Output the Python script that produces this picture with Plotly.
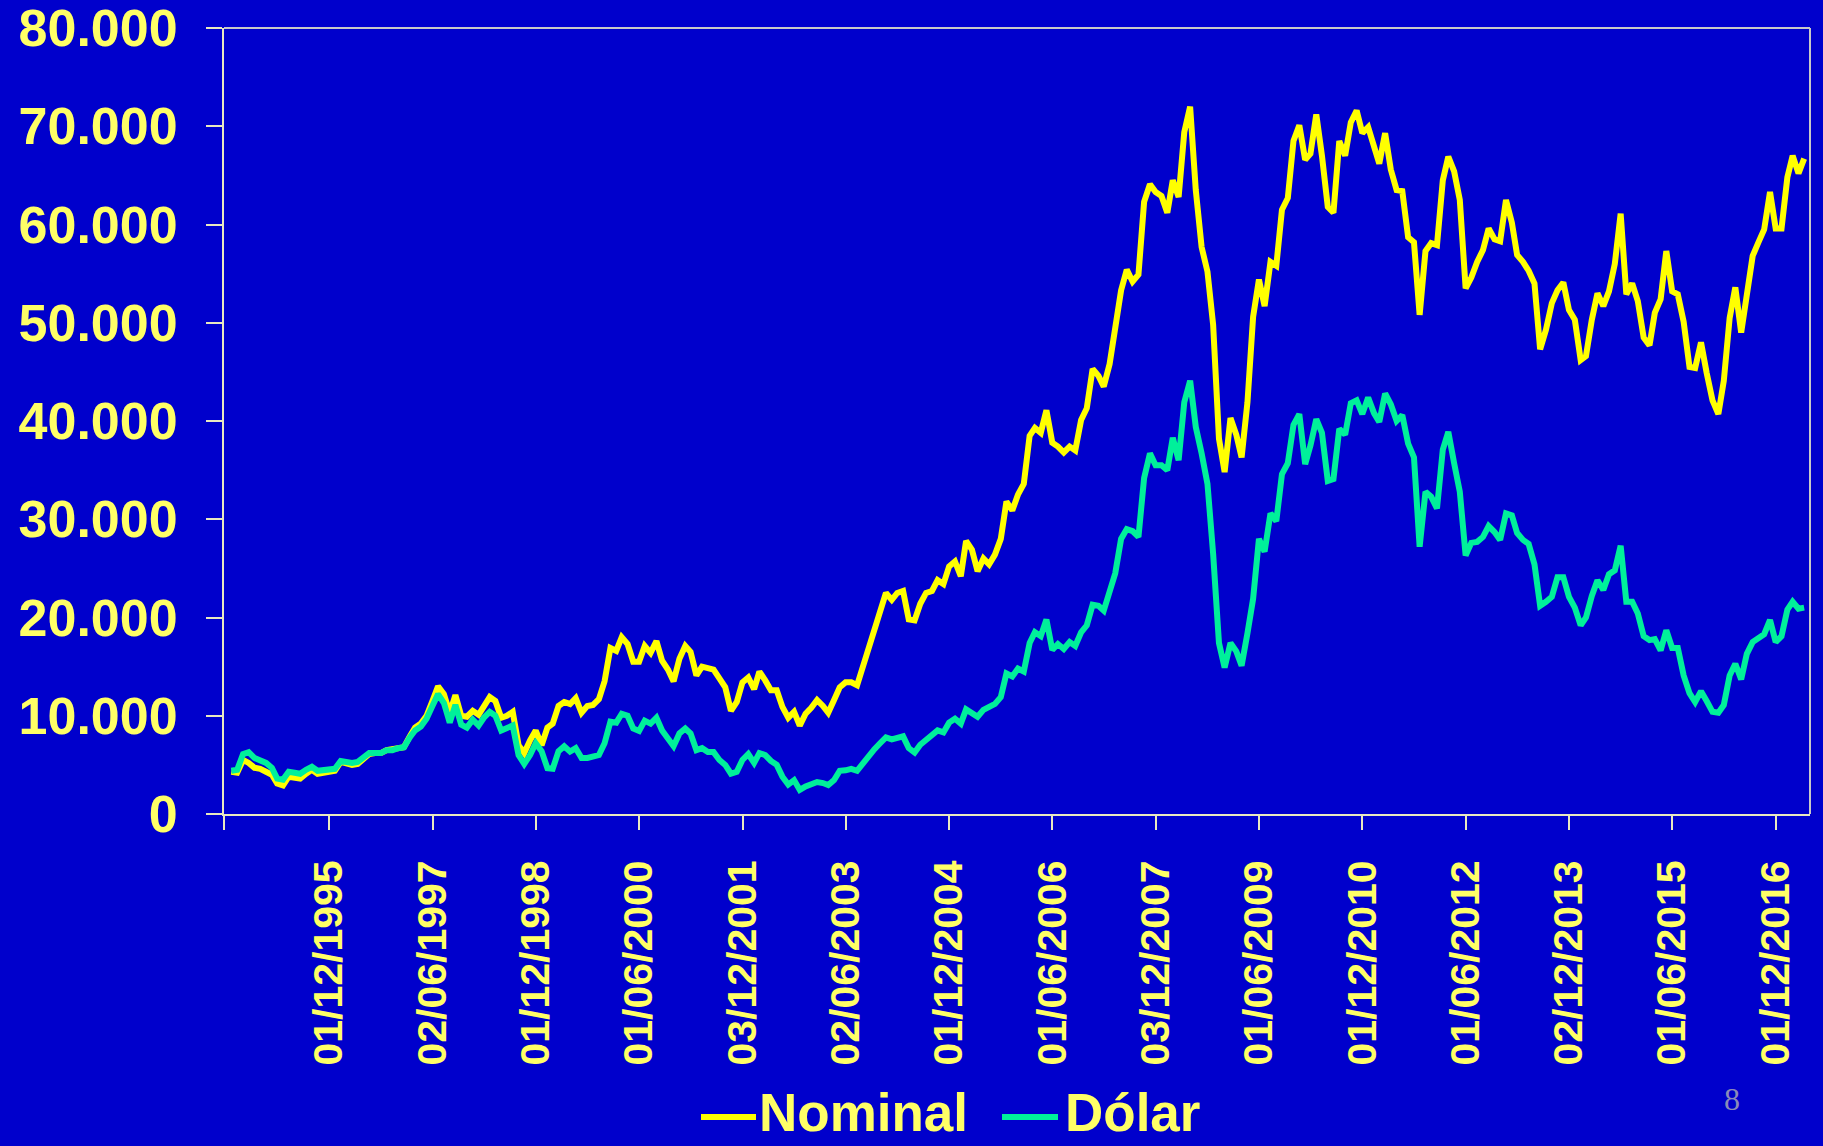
import pandas as pd
import plotly.graph_objects as go

# Monthly index levels, July 1994 through May 2017
first_month = "1994-07-01"

nominal = [
    4300, 4200, 5500, 5200, 4700, 4600, 4300, 4000, 3100, 2900, 3800, 3700,
    3600, 4100, 4500, 4100, 4200, 4300, 4400, 5300, 5100, 5000, 5100, 5600,
    6100, 6200, 6200, 6500, 6600, 6700, 6800, 7900, 8800, 9200, 10000, 11500,
    13000, 12200, 10300, 12100, 10000, 9900, 10500, 10100, 11000, 11900, 11500, 9800,
    10000, 10400, 7000, 6200, 7500, 8500, 7000, 8800, 9200, 11000, 11400, 11200,
    11800, 10300, 11000, 11100, 11700, 13500, 16900, 16600, 18000, 17300, 15500, 15500,
    17100, 16400, 17600, 15600, 14700, 13500, 15800, 17100, 16500, 14100, 15000, 14900,
    14700, 13800, 12900, 10500, 11400, 13400, 13900, 12700, 14500, 13600, 12600, 12600,
    10900, 9800, 10400, 9000, 10200, 10800, 11600, 11000, 10300, 11600, 12900, 13400,
    13400, 13100, 15000, 16500, 18500, 20500, 22500, 21800, 22500, 22700, 19800, 19700,
    21400, 22500, 22700, 23800, 23400, 25200, 25700, 24200, 27800, 26900, 24700, 26000,
    25400, 26400, 28000, 31800, 30900, 32500, 33600, 38500, 39300, 38800, 41100, 37800,
    37400, 36800, 37400, 37000, 40100, 41300, 45300, 44600, 43500, 45800, 49100, 53300,
    55400, 54200, 54900, 62300, 64100, 63300, 62900, 61200, 64500, 62800, 69400, 72000,
    63500, 57700, 55200, 49800, 38200, 34800, 40300, 38600, 36300, 41900, 50600, 54400,
    51700, 56200, 55800, 61500, 62700, 68500, 70100, 66600, 67200, 71200, 67000, 61800,
    61200, 68500, 67000, 70400, 71600, 69300, 69900, 67900, 66200, 69300, 65600, 63500,
    63400, 58700, 58200, 50800, 57300, 58100, 57900, 64500, 66900, 65400, 62500, 53500,
    54600, 56200, 57400, 59600, 58500, 58300, 62500, 60200, 56900, 56200, 55300, 54000,
    47300, 49300, 52000, 53300, 54100, 51300, 50300, 46200, 46600, 50300, 53000, 51700,
    53200, 56000, 61100, 52900, 54000, 52200, 48500, 47700, 51000, 52400, 57300, 53200,
    52900, 50100, 45500, 45400, 48000, 44900, 42100, 40700, 44100, 50500, 53600, 49000,
    52400, 56800, 58200, 59500, 63300, 59600, 59600, 64800, 67000, 65200, 66700,
]

dolar = [
    4400, 4500, 6100, 6300, 5700, 5500, 5200, 4700, 3600, 3500, 4300, 4200,
    4100, 4500, 4800, 4400, 4500, 4500, 4600, 5400, 5300, 5200, 5300, 5800,
    6200, 6200, 6200, 6500, 6500, 6700, 6800, 7800, 8500, 8900, 9700, 11000,
    12200, 11300, 9300, 11100, 9100, 8800, 9600, 9000, 9800, 10400, 10000, 8500,
    8700, 9000, 6000, 5100, 6000, 7200, 6400, 4650, 4600, 6400, 6900, 6350,
    6700, 5700, 5700, 5800, 6000, 7200, 9400, 9300, 10200, 10000, 8700, 8450,
    9500, 9200, 9800, 8500, 7800, 6900, 8200, 8700, 8200, 6500, 6700, 6300,
    6300, 5500, 5000, 4100, 4300, 5500, 6100, 5200, 6200, 6000, 5400, 5000,
    3800, 3000, 3450, 2450, 2800, 3000, 3250, 3150, 2950, 3450, 4400, 4450,
    4600, 4400, 5200, 5800, 6600, 7200, 7800, 7600, 7700, 7900, 6700, 6250,
    7050, 7500, 7900, 8500, 8300, 9300, 9700, 9200, 10650, 10200, 9900, 10600,
    10900, 11200, 11900, 14300, 14000, 14800, 14500, 17400, 18500, 18100, 19800, 16700,
    17300, 16800, 17500, 17100, 18500, 19200, 21300, 21200, 20700, 22400, 24500, 28000,
    29000, 28800, 28200, 34200, 36700, 35500, 35500, 35000, 38300, 36000, 41900, 44100,
    39400, 36700, 33600, 26500, 17400, 14900, 17400, 16550, 15100, 18400, 21900, 28000,
    26700, 30600, 29800, 34600, 35700, 39600, 40700, 35600, 37500, 40200, 38800, 33900,
    34100, 39200, 38600, 41800, 42100, 40700, 42400, 40800, 39900, 42800, 41700, 40000,
    40600, 37700, 36300, 27200, 32800, 32300, 31100, 37100, 38900, 35700, 32800, 26300,
    27600, 27700, 28200, 29300, 28700, 27900, 30600, 30400, 28600, 27900, 27500, 25400,
    21200, 21600, 22100, 24100, 24100, 22100, 21000, 19200, 20000, 22200, 23800, 22800,
    24400, 24800, 27300, 21600, 21600, 20400, 18100, 17700, 17800, 16650, 18700, 16900,
    16900, 14100, 12300, 11400, 12500, 11500, 10400, 10300, 11100, 14100, 15300, 13700,
    16300, 17500, 17900, 18300, 19750, 17500, 18100, 20800, 21600, 20900, 21000,
]

months = pd.date_range(first_month, periods=len(nominal), freq="MS")

tick_dates = [
    "1995-12-01", "1997-06-02", "1998-12-01", "2000-06-01", "2001-12-03",
    "2003-06-02", "2004-12-01", "2006-06-01", "2007-12-03", "2009-06-01",
    "2010-12-01", "2012-06-01", "2013-12-02", "2015-06-01", "2016-12-01",
]
tick_labels = [
    "01/12/1995", "02/06/1997", "01/12/1998", "01/06/2000", "03/12/2001",
    "02/06/2003", "01/12/2004", "01/06/2006", "03/12/2007", "01/06/2009",
    "01/12/2010", "01/06/2012", "02/12/2013", "01/06/2015", "01/12/2016",
]
y_ticks = [0, 10000, 20000, 30000, 40000, 50000, 60000, 70000, 80000]
y_labels = ["0", "10.000", "20.000", "30.000", "40.000", "50.000", "60.000", "70.000", "80.000"]

series_names = ["Nominal", "Dólar"]
series_colors = ["#FFFF00", "#00F09A"]

x_start, x_end = "1994-05-23", "2017-06-01"

BG = "#0000CC"
LABEL = "#FFFF66"
AXIS = "#E8E8C0"
FRAME = "#C8C8C8"
FONT = "Liberation Sans, Arial, sans-serif"

# plot area in pixels: left 224, right 1810, top 28, bottom 814
L, R, T, B = 224, 1810, 28, 814


def px(x):
    return (x - L) / (R - L)


def py(y):
    return (B - y) / (B - T)


fig = go.Figure()
for name, values, color in zip(series_names, [nominal, dolar], series_colors):
    fig.add_trace(go.Scatter(
        x=months, y=values, name=name, mode="lines",
        line=dict(color=color, width=6), showlegend=False,
    ))

# light frame on the top and right sides of the plot area
fig.add_shape(type="line", xref="paper", yref="paper", x0=0, x1=1, y0=1, y1=1,
              line=dict(color=FRAME, width=2), layer="below")
fig.add_shape(type="line", xref="paper", yref="paper", x0=1, x1=1, y0=0, y1=1,
              line=dict(color=FRAME, width=2), layer="below")

# legend below the date labels: line sample followed by the series name
legend_items = [(701, 756, 758), (1002, 1058, 1064)]
for (lx0, lx1, tx), name, color in zip(legend_items, series_names, series_colors):
    fig.add_shape(type="line", xref="paper", yref="paper",
                  x0=px(lx0), x1=px(lx1), y0=py(1117), y1=py(1117),
                  line=dict(color=color, width=6))
    fig.add_annotation(
        text=name, xref="paper", yref="paper", x=px(tx), y=py(1112),
        showarrow=False, xanchor="left", yanchor="middle", borderpad=0,
        font=dict(family=FONT, size=53, color=LABEL, weight="bold"),
    )

fig.add_annotation(
    text="8", xref="paper", yref="paper", x=px(1732), y=py(1099),
    showarrow=False, xanchor="center", yanchor="middle",
    font=dict(family="Liberation Serif, Times New Roman, serif", size=32, color="#8A8AB8"),
)

fig.update_layout(
    width=1823, height=1146,
    margin=dict(l=L, r=1823 - R, t=T, b=1146 - B, autoexpand=False),
    paper_bgcolor=BG, plot_bgcolor=BG,
    showlegend=False,
    xaxis=dict(
        type="date", range=[x_start, x_end], automargin=False,
        tickmode="array", tickvals=[x_start] + tick_dates, ticktext=[""] + tick_labels,
        tickangle=-90, ticks="outside", ticklen=14, tickwidth=2, tickcolor=AXIS,
        ticklabelstandoff=14,
        showline=True, linecolor=AXIS, linewidth=2, showgrid=False, zeroline=False,
        tickfont=dict(family=FONT, size=41, color=LABEL, weight="bold"),
    ),
    yaxis=dict(
        range=[0, 80000], automargin=False, ticklabeloverflow="allow",
        tickmode="array", tickvals=y_ticks, ticktext=y_labels,
        ticks="outside", ticklen=16, tickwidth=2, tickcolor=AXIS,
        ticklabelstandoff=18,
        showline=True, linecolor=AXIS, linewidth=2, showgrid=False, zeroline=False,
        tickfont=dict(family=FONT, size=52, color=LABEL, weight="bold"),
    ),
)

fig.write_html("out.html")
